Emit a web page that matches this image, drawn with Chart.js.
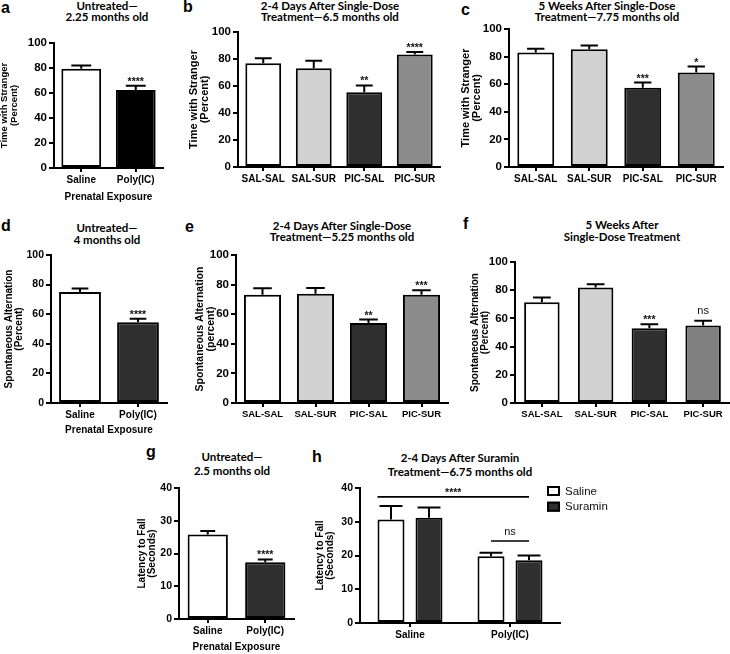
<!DOCTYPE html>
<html>
<head>
<meta charset="utf-8">
<script src="https://cdn.jsdelivr.net/npm/chart.js@4.4.1/dist/chart.umd.min.js"></script>
<style>
  body { margin: 0; background: #fff; }
  #fig { position: relative; width: 730px; height: 654px; overflow: hidden; background: #fff; }
  #fig canvas { position: absolute; }
  .ttl { position: absolute; font-family: Lato, "Open Sans", sans-serif; font-weight: bold; font-size: 11.5px;
         color: #000; text-align: center; white-space: nowrap; transform: translateX(-50%); }
  .lbl { position: absolute; font: bold 16px "Liberation Sans", Arial, sans-serif; line-height: 16px; color: #000; }
</style>
</head>
<body>
<div id="fig">
  <div class="lbl" style="left:1px;top:0px">a</div>
  <div class="lbl" style="left:183px;top:-1px">b</div>
  <div class="lbl" style="left:461px;top:2px">c</div>
  <div class="lbl" style="left:1px;top:218px">d</div>
  <div class="lbl" style="left:185px;top:219px">e</div>
  <div class="lbl" style="left:463px;top:216px">f</div>
  <div class="lbl" style="left:146px;top:444px">g</div>
  <div class="lbl" style="left:312px;top:449px">h</div>

  <div class="ttl" style="left:107px;top:0px;line-height:11px">Untreated—<br>2.25 months old</div>
  <div class="ttl" style="left:330px;top:0px;line-height:11px">2-4 Days After Single-Dose<br>Treatment—6.5 months old</div>
  <div class="ttl" style="left:607px;top:0px;line-height:11px">5 Weeks After Single-Dose<br>Treatment—7.75 months old</div>
  <div class="ttl" style="left:107px;top:222px;line-height:12px">Untreated—<br>4 months old</div>
  <div class="ttl" style="left:342px;top:220px;line-height:11px">2-4 Days After Single-Dose<br>Treatment—5.25 months old</div>
  <div class="ttl" style="left:622px;top:219px;line-height:12px">5 Weeks After<br>Single-Dose Treatment</div>
  <div class="ttl" style="left:232px;top:450px;line-height:14px">Untreated—<br>2.5 months old</div>
  <div class="ttl" style="left:460px;top:451px;line-height:14px">2-4 Days After Suramin<br>Treatment—6.75 months old</div>
</div>
<script>
const FONT = "'Liberation Sans', Arial, Helvetica, sans-serif";

// categories
const prenatalLabels = ["Saline", "Poly(IC)"];
const treatLabels = ["SAL-SAL", "SAL-SUR", "PIC-SAL", "PIC-SUR"];

// a: three chamber test, untreated
const aMean = [79.5, 62.5];
const aSem = [2.5, 3.3];
const aSig = ["", "****"];

// b: 2-4 days after single dose
const bMean = [76.8, 73.2, 55.4, 83.4];
const bSem = [3.8, 5.5, 5.0, 1.7];
const bSig = ["", "", "**", "****"];

// c: 5 weeks after single dose
const cMean = [83.0, 85.4, 57.5, 68.4];
const cSem = [2.7, 2.7, 3.7, 4.4];
const cSig = ["", "", "***", "*"];

// d-f: spontaneous alternation
const dMean = [75.0, 54.5];
const dSem = [2.3, 2.4];
const dSig = ["", "****"];

const eMean = [73.2, 73.8, 54.0, 73.2];
const eSem = [4.3, 3.9, 2.4, 3.0];
const eSig = ["", "", "**", "***"];

const fMean = [71.5, 82.0, 53.0, 54.9];
const fSem = [3.3, 2.3, 2.8, 3.5];
const fSig = ["", "", "***", "ns"];

// g, h: rotarod latency
const gMean = [25.8, 17.3];
const gSem = [1.1, 0.9];
const gSig = ["", "****"];

const hSeries = ["Saline", "Suramin"];
const hSalineMean = [30.7, 19.8];
const hSalineSem = [4.0, 1.0];
const hSuraminMean = [31.2, 18.6];
const hSuraminSem = [3.0, 1.4];
const hBracketY = [37.4, 24.3];
const hBracketText = ["****", "ns"];

const WHITE = "#ffffff", LIGHT = "#d2d2d2", DARK = "#2f2f2f", MID = "#8c8c8c", BLACK = "#000000";

// error bars (upper SEM only) + significance marks
const errorBars = {
  id: "errorBars",
  afterDatasetsDraw(chart, args, opts) {
    const ctx = chart.ctx;
    const ys = chart.scales.y;
    chart.data.datasets.forEach((ds, di) => {
      chart.getDatasetMeta(di).data.forEach((bar, i) => {
        const top = ys.getPixelForValue(ds.data[i]);
        const end = ys.getPixelForValue(ds.data[i] + ds.sem[i]);
        const half = bar.width * opts.capRatio / 2;
        ctx.save();
        ctx.strokeStyle = "#000";
        ctx.lineWidth = 2;
        ctx.beginPath();
        ctx.moveTo(bar.x, top);
        ctx.lineTo(bar.x, end);
        ctx.moveTo(bar.x - half, end);
        ctx.lineTo(bar.x + half, end);
        ctx.stroke();
        const s = ds.sig ? ds.sig[i] : "";
        if (s) {
          ctx.fillStyle = "#111";
          ctx.textAlign = "center";
          ctx.textBaseline = "alphabetic";
          if (s === "ns") {
            ctx.font = "11px " + FONT;
            ctx.fillText(s, bar.x, end - 7);
          } else {
            ctx.font = "bold 10.5px " + FONT;
            ctx.fillText(s, bar.x, end - 1);
          }
        }
        ctx.restore();
      });
    });
  }
};

// comparison lines over grouped bars
const brackets = {
  id: "brackets",
  afterDatasetsDraw(chart, args, opts) {
    const ctx = chart.ctx;
    const ys = chart.scales.y;
    const px = (ref) => {
      const bar = chart.getDatasetMeta(ref[0]).data[ref[1]];
      return bar.x + ref[2] * bar.width;
    };
    opts.items.forEach((it) => {
      const y = ys.getPixelForValue(it.y);
      const x1 = px(it.from), x2 = px(it.to);
      ctx.save();
      ctx.strokeStyle = "#000";
      ctx.lineWidth = 1.7;
      ctx.beginPath();
      ctx.moveTo(x1, y);
      ctx.lineTo(x2, y);
      ctx.stroke();
      ctx.fillStyle = "#111";
      ctx.textAlign = "center";
      if (it.text === "ns") {
        ctx.font = "11px " + FONT;
        ctx.fillText(it.text, (x1 + x2) / 2, y - 6);
      } else {
        ctx.font = "bold 10.5px " + FONT;
        ctx.fillText(it.text, (x1 + x2) / 2, y - 1);
      }
      ctx.restore();
    });
  }
};

// square legend next to the plot
const boxLegend = {
  id: "boxLegend",
  afterDraw(chart, args, opts) {
    const ctx = chart.ctx;
    const x = chart.chartArea.right + opts.dx;
    let y = chart.chartArea.top + opts.dy;
    chart.data.datasets.forEach((ds) => {
      ctx.save();
      ctx.fillStyle = ds.backgroundColor;
      ctx.fillRect(x, y, 13, 10);
      ctx.strokeStyle = "#000";
      ctx.lineWidth = 2;
      ctx.strokeRect(x + 1, y + 1, 11, 8);
      ctx.fillStyle = "#111";
      ctx.font = "11.5px " + FONT;
      ctx.textBaseline = "middle";
      ctx.fillText(ds.label, x + 18, y + 5.5);
      ctx.restore();
      y += 15.7;
    });
  }
};

function makePanel(p) {
  const cv = document.createElement("canvas");
  cv.width = p.box[2] - p.box[0];
  cv.height = p.box[3] - p.box[1];
  cv.style.left = p.box[0] + "px";
  cv.style.top = p.box[1] + "px";
  document.getElementById("fig").appendChild(cv);
  return new Chart(cv.getContext("2d"), {
    type: "bar",
    data: { labels: p.labels, datasets: p.datasets },
    options: {
      responsive: false,
      animation: false,
      devicePixelRatio: 1,
      layout: {
        padding: { left: 0, bottom: 0, top: p.area[2] - p.box[1], right: p.box[2] - p.area[1] }
      },
      plugins: {
        legend: { display: false },
        tooltip: { enabled: false },
        errorBars: { capRatio: p.cap },
        brackets: { items: p.brackets || [] },
        boxLegend: { dx: -13, dy: -2 }
      },
      scales: {
        x: {
          offset: true,
          afterFit: (s) => { s.height = p.box[3] - p.area[3]; },
          grid: { offset: false, drawOnChartArea: false, tickLength: 4, color: "#000", lineWidth: 2 },
          border: { display: true, color: "#000", width: 2 },
          ticks: {
            color: "#000", padding: 2, maxRotation: 0, autoSkip: false,
            font: { family: FONT, size: p.xFont, weight: "bold" }
          },
          title: {
            display: !!p.xTitle, text: p.xTitle || "", color: "#000", padding: 0,
            font: { family: FONT, size: 10, weight: "bold" }
          }
        },
        y: {
          min: 0,
          max: p.yMax,
          afterFit: (s) => { s.width = p.area[0] - p.box[0]; },
          grid: { drawOnChartArea: false, tickLength: 5, color: "#000", lineWidth: 2 },
          border: { display: true, color: "#000", width: 2 },
          ticks: {
            stepSize: p.yStep, color: "#000", padding: 2,
            font: { family: FONT, size: p.yFont, weight: "bold" }
          },
          title: {
            display: true, text: p.yTitle, color: "#000", padding: 0,
            font: { family: FONT, size: p.yTitleSize, weight: "bold", lineHeight: 1 }
          }
        }
      }
    },
    plugins: p.extra ? [errorBars].concat(p.extra) : [errorBars]
  });
}

function single(mean, sem, sig, colors, frac) {
  return [{
    data: mean, sem: sem, sig: sig,
    backgroundColor: colors, borderColor: "#000", borderWidth: 2, borderSkipped: false,
    barPercentage: 1, categoryPercentage: frac
  }];
}

const strangerTitle = ["Time with Stranger", "(Percent)"];

makePanel({
  box: [0, 25, 170, 203], area: [54, 163, 43, 168],
  labels: prenatalLabels, datasets: single(aMean, aSem, aSig, [WHITE, BLACK], 0.73),
  yMax: 100, yStep: 20, yFont: 11.5, xFont: 10, yTitle: strangerTitle, yTitleSize: 9.5,
  xTitle: "Prenatal Exposure", cap: 0.5
});
makePanel({
  box: [188, 20, 450, 192], area: [238, 440, 32, 167],
  labels: treatLabels, datasets: single(bMean, bSem, bSig, [WHITE, LIGHT, DARK, MID], 0.71),
  yMax: 100, yStep: 20, yFont: 11.5, xFont: 10, yTitle: strangerTitle, yTitleSize: 11, cap: 0.47
});
makePanel({
  box: [460, 18, 730, 192], area: [509, 723, 29, 167],
  labels: treatLabels, datasets: single(cMean, cSem, cSig, [WHITE, LIGHT, DARK, MID], 0.69),
  yMax: 100, yStep: 20, yFont: 11.5, xFont: 10, yTitle: strangerTitle, yTitleSize: 11, cap: 0.47
});
makePanel({
  box: [4, 245, 172, 436], area: [51, 167, 255, 403],
  labels: prenatalLabels, datasets: single(dMean, dSem, dSig, [WHITE, DARK], 0.72),
  yMax: 100, yStep: 20, yFont: 10.5, xFont: 10, yTitle: ["Spontaneous Alternation", "(Percent)"], yTitleSize: 10,
  xTitle: "Prenatal Exposure", cap: 0.4
});
makePanel({
  box: [195, 245, 455, 425], area: [236, 448, 255, 403],
  labels: treatLabels, datasets: single(eMean, eSem, eSig, [WHITE, LIGHT, DARK, MID], 0.70),
  yMax: 100, yStep: 20, yFont: 11.5, xFont: 9.5, yTitle: ["Spontaneous Alternation", "(percent)"], yTitleSize: 10.5, cap: 0.5
});
makePanel({
  box: [470, 248, 730, 425], area: [515, 730, 262, 403],
  labels: treatLabels, datasets: single(fMean, fSem, fSig, [WHITE, LIGHT, DARK, "#808080"], 0.66),
  yMax: 100, yStep: 20, yFont: 11.5, xFont: 9.5, yTitle: ["Spontaneous Alternation", "(Percent)"], yTitleSize: 10, cap: 0.5
});
makePanel({
  box: [137, 478, 300, 653], area: [179, 294, 488, 619],
  labels: prenatalLabels, datasets: single(gMean, gSem, gSig, [WHITE, DARK], 0.70),
  yMax: 40, yStep: 10, yFont: 10.5, xFont: 10, yTitle: ["Latency to Fall", "(Seconds)"], yTitleSize: 10,
  xTitle: "Prenatal Exposure", cap: 0.37
});
makePanel({
  box: [315, 478, 620, 650], area: [360, 560, 488, 623],
  labels: prenatalLabels,
  datasets: [
    { label: hSeries[0], data: hSalineMean, sem: hSalineSem, backgroundColor: WHITE, borderColor: "#000",
      borderWidth: 2, borderSkipped: false, barPercentage: 0.71, categoryPercentage: 0.76 },
    { label: hSeries[1], data: hSuraminMean, sem: hSuraminSem, backgroundColor: DARK, borderColor: "#000",
      borderWidth: 2, borderSkipped: false, barPercentage: 0.71, categoryPercentage: 0.76 }
  ],
  yMax: 40, yStep: 10, yFont: 10.5, xFont: 10, yTitle: ["Latency to Fall", "(Seconds)"], yTitleSize: 10, cap: 0.85,
  brackets: [
    { y: hBracketY[0], text: hBracketText[0], from: [0, 0, -0.5], to: [1, 1, 0] },
    { y: hBracketY[1], text: hBracketText[1], from: [0, 1, 0], to: [1, 1, 0] }
  ],
  extra: [brackets, boxLegend]
});
</script>
</body>
</html>
